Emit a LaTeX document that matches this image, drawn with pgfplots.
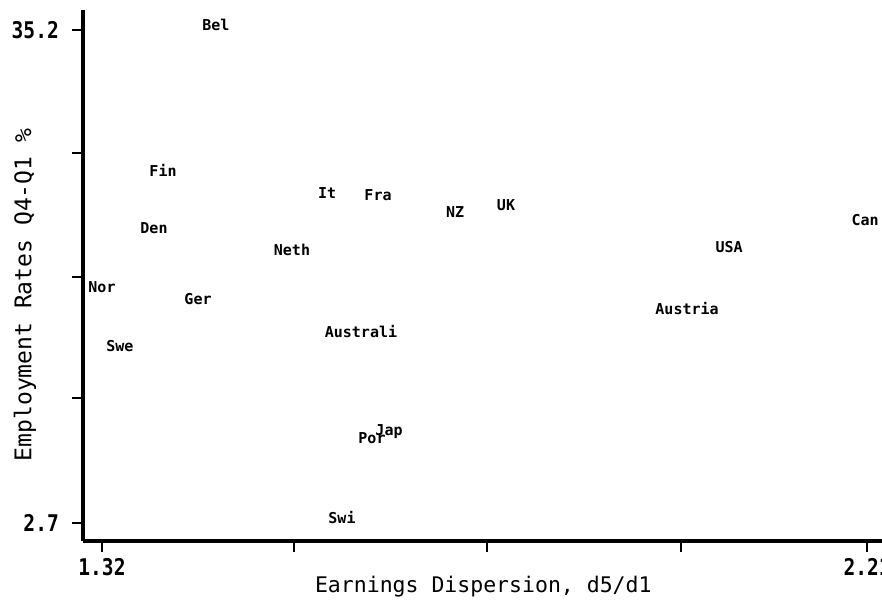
\documentclass[border=0pt]{standalone}
\usepackage{fontspec}
\setmainfont{DejaVu Sans Mono}
\newfontfamily\tickfont[FakeStretch=0.85]{DejaVu Sans Mono}
\usepackage{pgfplots}
\pgfplotsset{compat=1.18}
\usepackage{pgfplotstable}
\pgfplotstableread{
label x y
Bel 1.4526 35.53
Fin 1.3910 25.97
Den 1.3805 22.15
Nor 1.3200 18.26
Ger 1.4317 17.47
Swe 1.3409 14.37
Neth 1.5410 20.70
It 1.5818 24.45
Fra 1.6411 24.32
NZ 1.7307 23.20
UK 1.7900 23.66
USA 2.0495 20.89
Can 2.2077 22.67
Austria 2.0006 16.87
Australi 1.6213 15.29
Por 1.6341 8.30
Jap 1.6539 8.70
Swi 1.5992 3.03
}\datatable
\begin{document}
\begin{tikzpicture}
\begin{axis}[
 at={(0,0)}, anchor=south west,
 scale only axis, width=799pt, height=531pt,
 xmin=1.2979, xmax=2.2274, ymin=1.51, ymax=36.52,
 axis x line*=bottom, axis y line*=left,
 axis line style={line width=4pt, black},
 xtick={1.32,1.5434,1.7679,1.9936,2.21}, xticklabels={1.32,,,,2.21},
 ytick={2.7,10.94,18.917,27.09,35.2}, yticklabels={2.7,,,,35.2},
 tick align=outside, major tick length=11pt,
 major tick style={line width=1.8pt, black},
 ticklabel style={font=\tickfont\bfseries\fontsize{23}{27}\selectfont, inner sep=0pt},
 xticklabel style={anchor=north, yshift=-6pt},
 yticklabel style={anchor=east, xshift=-13pt},
 /pgf/number format/assume math mode=true,
 xlabel={Earnings Dispersion, d5/d1},
 ylabel={Employment Rates Q4-Q1 \%},
 xlabel style={font=\fontsize{21.5}{25}\selectfont, at={(axis description cs:0.501,-0.0866)}, anchor=center},
 ylabel style={font=\fontsize{23}{27}\selectfont, at={(axis description cs:-0.0726,0.4633)}, anchor=center},
 clip=false,
]
\addplot[only marks, mark=none, nodes near coords, point meta=explicit symbolic,
 nodes near coords style={anchor=center, font=\fontsize{15}{18}\selectfont\bfseries, inner sep=0pt}]
 table[x=x, y=y, meta=label]{\datatable};
\end{axis}
\pgfresetboundingbox
\useasboundingbox (-83pt,-62pt) rectangle (799pt,541pt);
\end{tikzpicture}
\end{document}
